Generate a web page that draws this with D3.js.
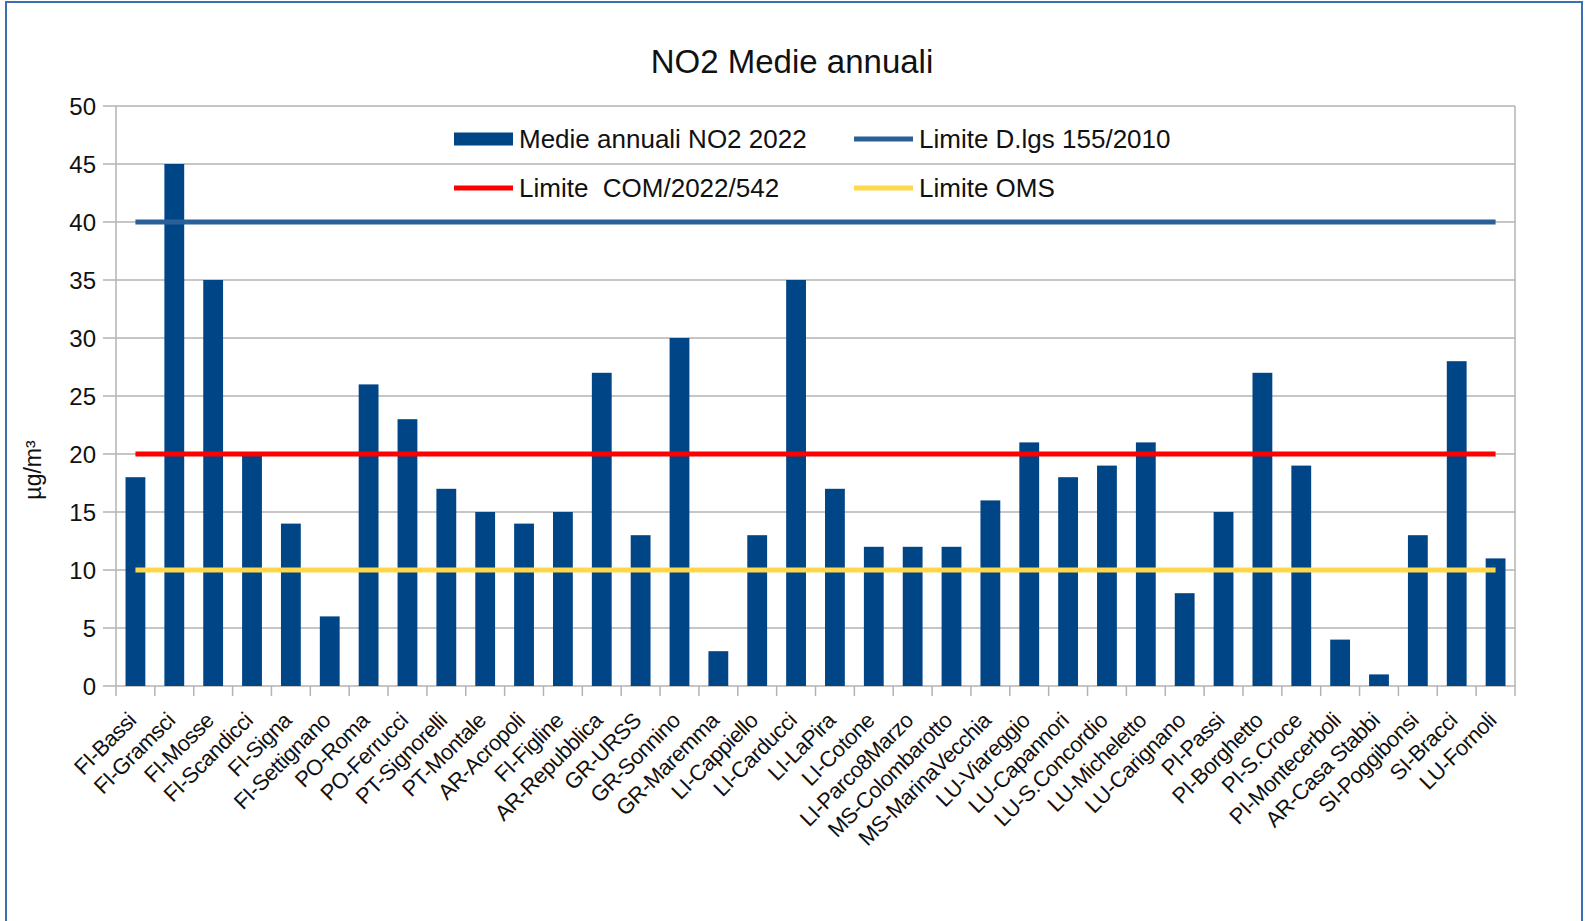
<!DOCTYPE html>
<html>
<head>
<meta charset="utf-8">
<script src="https://cdn.jsdelivr.net/npm/d3@7"></script>
<style>
  body { margin: 0; background: #fff; }
  svg { display: block; font-family: "Liberation Sans", Arial, sans-serif; }
</style>
</head>
<body>
<svg id="chart" width="1585" height="921"></svg>
<script>
// stations and annual NO2 means (µg/m3)
var stations = ["FI-Bassi", "FI-Gramsci", "FI-Mosse", "FI-Scandicci", "FI-Signa", "FI-Settignano",
  "PO-Roma", "PO-Ferrucci", "PT-Signorelli", "PT-Montale", "AR-Acropoli", "FI-Figline",
  "AR-Repubblica", "GR-URSS", "GR-Sonnino", "GR-Maremma", "LI-Cappiello", "LI-Carducci",
  "LI-LaPira", "LI-Cotone", "LI-Parco8Marzo", "MS-Colombarotto", "MS-MarinaVecchia", "LU-Viareggio",
  "LU-Capannori", "LU-S.Concordio", "LU-Micheletto", "LU-Carignano", "PI-Passi", "PI-Borghetto",
  "PI-S.Croce", "PI-Montecerboli", "AR-Casa Stabbi", "SI-Poggibonsi", "SI-Bracci", "LU-Fornoli"];
var medie2022 = [18, 45, 35, 20, 14, 6, 26, 23, 17, 15, 14, 15, 27, 13, 30, 3, 13, 35,
  17, 12, 12, 12, 16, 21, 18, 19, 21, 8, 15, 27, 19, 4, 1, 13, 28, 11];

// limit values
var limitNames = ["Limite D.lgs 155/2010", "Limite  COM/2022/542", "Limite OMS"];
var limitValues = [40, 20, 10];
var limitColors = ["#2a6099", "#ff0000", "#ffd84a"];

var yTicks = [0, 5, 10, 15, 20, 25, 30, 35, 40, 45, 50];

var svg = d3.select("#chart");

// outer frame
svg.append("rect")
  .attr("x", 6).attr("y", 2)
  .attr("width", 1576).attr("height", 940)
  .attr("fill", "none")
  .attr("stroke", "#3c6eb4")
  .attr("stroke-width", 2);

var plotLeft = 116, plotRight = 1515, plotTop = 106, plotBottom = 686;

var x = d3.scaleBand().domain(stations).range([plotLeft, plotRight]).padding(0);
var y = d3.scaleLinear().domain([0, 50]).range([plotBottom, plotTop]);
var bw = x.bandwidth();

// gridlines
svg.append("g").selectAll("line")
  .data(yTicks)
  .enter().append("line")
  .attr("x1", plotLeft - 13).attr("x2", plotRight)
  .attr("y1", d => y(d)).attr("y2", d => y(d))
  .attr("stroke", "#b3b3b3").attr("stroke-width", 1.5);

// left and right plot border
svg.append("line").attr("x1", plotLeft).attr("x2", plotLeft).attr("y1", plotTop).attr("y2", plotBottom + 10)
  .attr("stroke", "#b3b3b3").attr("stroke-width", 1.5);
svg.append("line").attr("x1", plotRight).attr("x2", plotRight).attr("y1", plotTop).attr("y2", plotBottom + 10)
  .attr("stroke", "#b3b3b3").attr("stroke-width", 1.5);

// x tick marks at band boundaries
svg.append("g").selectAll("line")
  .data(stations.slice(1))
  .enter().append("line")
  .attr("x1", d => x(d)).attr("x2", d => x(d))
  .attr("y1", plotBottom).attr("y2", plotBottom + 10)
  .attr("stroke", "#b3b3b3").attr("stroke-width", 1.5);

// y tick labels
svg.append("g").selectAll("text")
  .data(yTicks)
  .enter().append("text")
  .attr("x", plotLeft - 20)
  .attr("y", d => y(d))
  .attr("dy", "0.36em")
  .attr("text-anchor", "end")
  .attr("font-size", 24)
  .attr("fill", "#111")
  .text(d => d);

// bars
svg.append("g").selectAll("rect")
  .data(medie2022)
  .enter().append("rect")
  .attr("x", (d, i) => x(stations[i]) + bw * 0.245)
  .attr("width", bw * 0.51)
  .attr("y", d => y(d))
  .attr("height", d => y(0) - y(d))
  .attr("fill", "#004586");

// limit lines
var cx0 = x(stations[0]) + bw / 2;
var cx1 = x(stations[stations.length - 1]) + bw / 2;
svg.append("g").selectAll("line")
  .data(limitValues)
  .enter().append("line")
  .attr("x1", cx0).attr("x2", cx1)
  .attr("y1", d => y(d)).attr("y2", d => y(d))
  .attr("stroke", (d, i) => limitColors[i])
  .attr("stroke-width", 5);

// x labels
svg.append("g").selectAll("text")
  .data(stations)
  .enter().append("text")
  .attr("transform", d => "translate(" + (x(d) + bw / 2 + 2) + "," + (plotBottom + 36) + ") rotate(-45)")
  .attr("text-anchor", "end")
  .attr("font-size", 22)
  .attr("letter-spacing", -0.5)
  .attr("fill", "#111")
  .text(d => d);

// title
svg.append("text")
  .attr("x", 792).attr("y", 73)
  .attr("text-anchor", "middle")
  .attr("font-size", 33)
  .attr("fill", "#111")
  .text("NO2 Medie annuali");

// y axis title
svg.append("text")
  .attr("transform", "translate(41,470) rotate(-90)")
  .attr("text-anchor", "middle")
  .attr("font-size", 23)
  .attr("fill", "#111")
  .text("µg/m³");

// legend
var legendItems = [
  {name: "Medie annuali NO2 2022", color: "#004586", h: 13, x: 454, y: 139},
  {name: limitNames[0], color: limitColors[0], h: 5, x: 854, y: 139},
  {name: limitNames[1], color: limitColors[1], h: 5, x: 454, y: 188},
  {name: limitNames[2], color: limitColors[2], h: 5, x: 854, y: 188}
];
var lg = svg.append("g").selectAll("g")
  .data(legendItems)
  .enter().append("g")
  .attr("transform", d => "translate(" + d.x + "," + d.y + ")");
lg.append("rect")
  .attr("x", 0).attr("y", d => -d.h / 2)
  .attr("width", 59).attr("height", d => d.h)
  .attr("fill", d => d.color);
lg.append("text")
  .attr("x", 65).attr("dy", "0.36em")
  .attr("font-size", 26)
  .attr("fill", "#111")
  .style("white-space", "pre")
  .text(d => d.name);
</script>
</body>
</html>
